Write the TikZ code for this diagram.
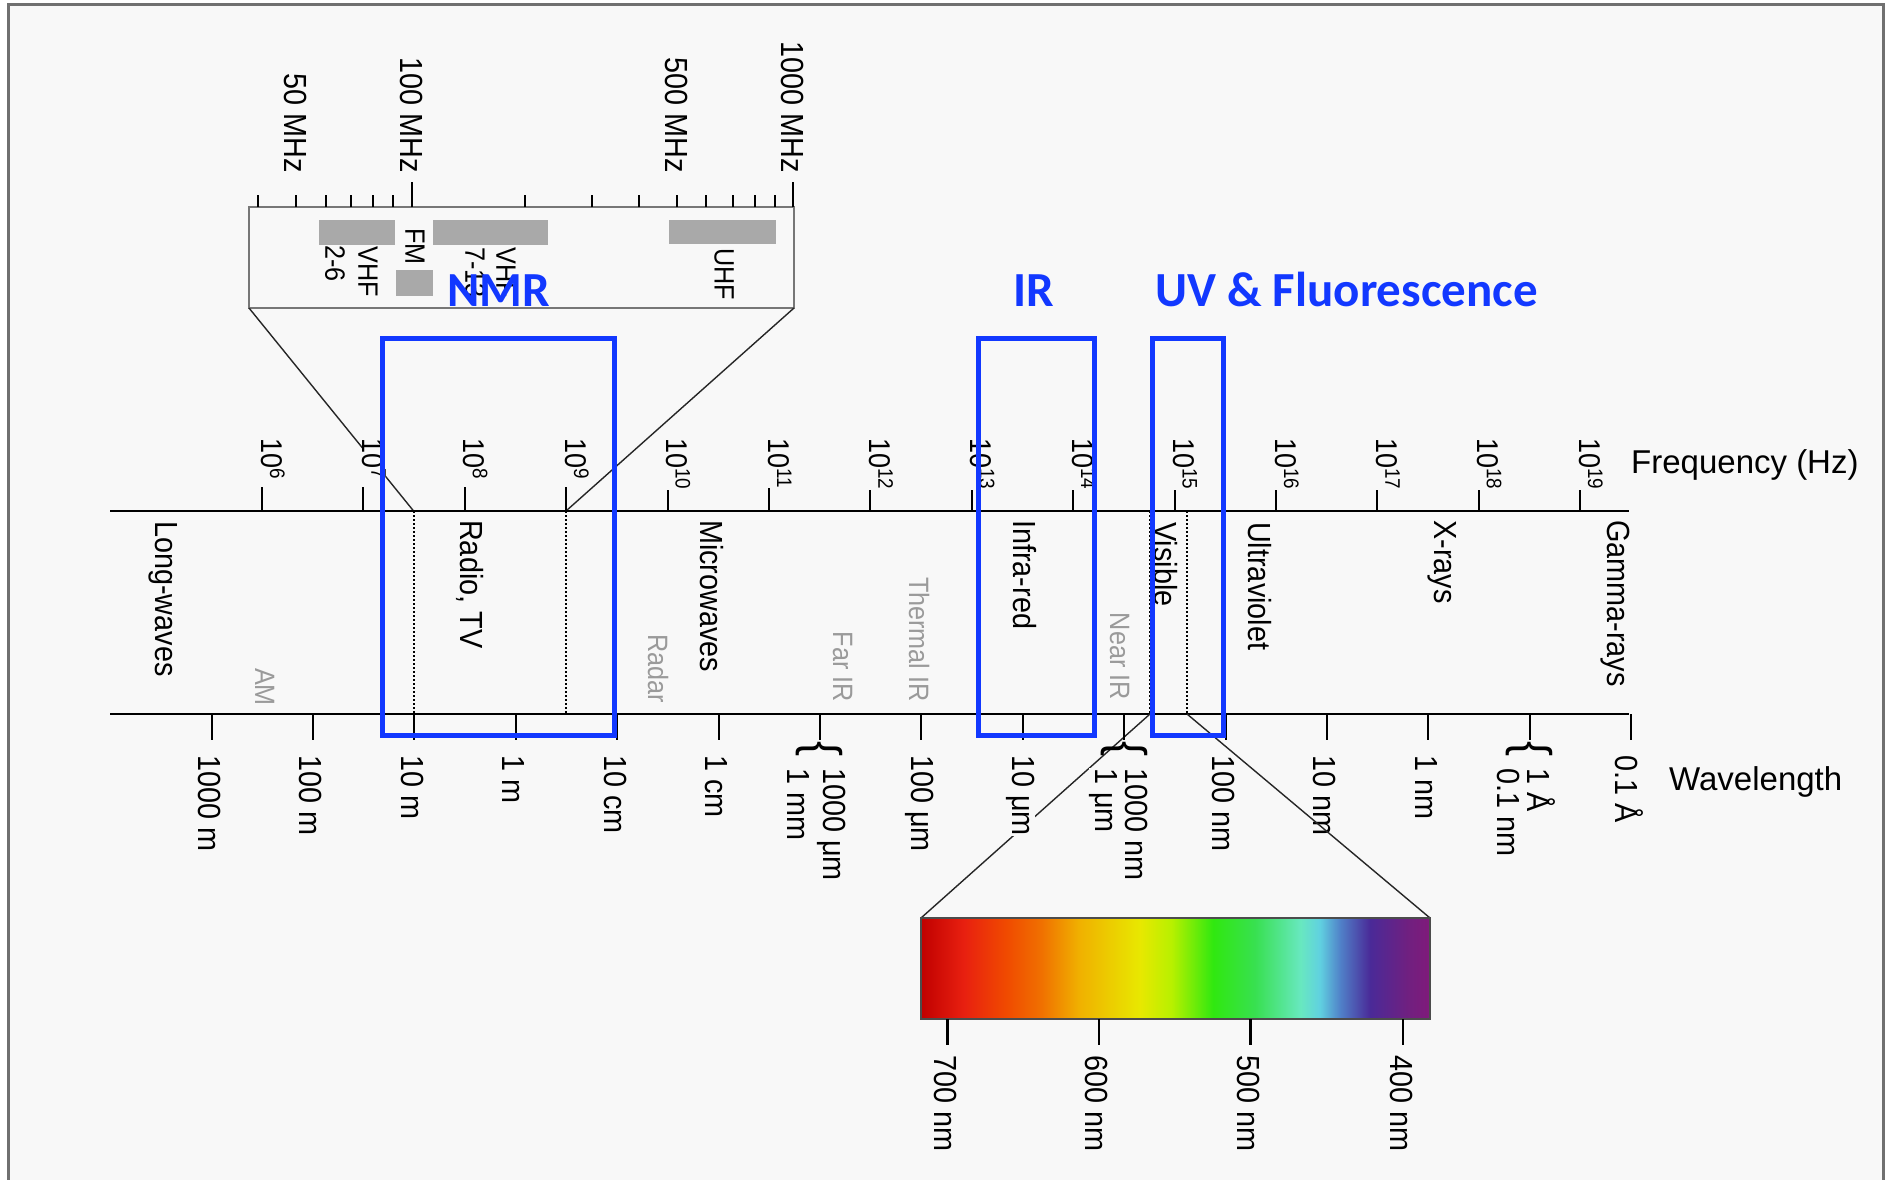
\documentclass[tikz,border=0pt]{standalone}
\usepackage{fontspec}
\setmainfont{Liberation Sans}
\newfontfamily\rotfont[FakeStretch=0.9]{Liberation Sans}
\newfontfamily\bluefont{Carlito}
\definecolor{bgc}{HTML}{F8F8F8}
\definecolor{framec}{HTML}{707070}
\definecolor{blueC}{HTML}{1238FF}
\definecolor{grayT}{HTML}{9A9A9A}
\definecolor{barc}{HTML}{A9A9A9}
\definecolor{insetc}{HTML}{777777}
\definecolor{s0}{HTML}{C00000}
\definecolor{s1}{HTML}{E82010}
\definecolor{s2}{HTML}{F04A00}
\definecolor{s3}{HTML}{F07000}
\definecolor{s4}{HTML}{F0B000}
\definecolor{s5}{HTML}{E8E800}
\definecolor{s6}{HTML}{B8F000}
\definecolor{s7}{HTML}{30E810}
\definecolor{s8}{HTML}{38E050}
\definecolor{s9}{HTML}{68E8C0}
\definecolor{s10}{HTML}{60D0E0}
\definecolor{s11}{HTML}{5080C8}
\definecolor{s12}{HTML}{4A2A98}
\definecolor{s13}{HTML}{702080}
\definecolor{s14}{HTML}{801A7A}
\pgfdeclarehorizontalshading{visspec}{100bp}{color(0bp)=(s0); color(25bp)=(s0); color(29.2bp)=(s1); color(33.35bp)=(s2); color(36.8bp)=(s3); color(40.5bp)=(s4); color(46.5bp)=(s5); color(49.6bp)=(s6); color(53.7bp)=(s7); color(57.8bp)=(s8); color(62.3bp)=(s9); color(64.2bp)=(s10); color(66.2bp)=(s11); color(69.1bp)=(s12); color(72.8bp)=(s13); color(75bp)=(s14); color(100bp)=(s14)}
\tikzset{
 axisline/.style={line width=2.5pt, black},
 tk/.style={line width=2pt, black},
 rl/.style={rotate=-90, inner sep=0pt, anchor=west, fill=bgc, font=\rotfont\fontsize{32}{36}\selectfont},
 flab/.style={rotate=-90, inner sep=0pt, anchor=base west, fill=bgc, font=\rotfont\fontsize{30}{34}\selectfont},
 glab/.style={rotate=-90, inner sep=0pt, anchor=base east, text=grayT, font=\rotfont\fontsize{28}{32}\selectfont},
 band/.style={rotate=-90, inner sep=0pt, anchor=base west, font=\rotfont\fontsize{32}{36}\selectfont},
 ilab/.style={rotate=-90, inner sep=0pt, anchor=west, font=\rotfont\fontsize{28}{31}\selectfont},
 mlab/.style={rotate=-90, inner sep=0pt, anchor=east, font=\rotfont\fontsize{32}{36}\selectfont},
 brace/.style={rotate=-90, inner sep=0pt, font=\rotfont\fontsize{50}{50}\selectfont},
 bluebox/.style={draw=blueC, line width=5pt},
 bluetitle/.style={anchor=base west, inner sep=0pt, text=blueC, font=\bluefont\bfseries\fontsize{49}{53}\selectfont},
 dotline/.style={line width=2pt, dash pattern=on 2pt off 2pt},
 conn/.style={line width=1.4pt, black!85},
 axlab/.style={anchor=base west, inner sep=0pt, font=\fontsize{33}{38}\selectfont},
}
\begin{document}
\begin{tikzpicture}[x=1pt,y=-1pt]
\useasboundingbox (0,0) rectangle (1885,1180);
\fill[white] (0,0) rectangle (1885,1180);
\fill[bgc] (8.5,4.5) rectangle (1883,1180);
\draw[framec, line width=3pt] (8.5,1180) -- (8.5,4.5) -- (1883,4.5) -- (1883,1180);

% ---------- inset (MHz) ----------
\draw[insetc, line width=2pt] (249,207) rectangle (794,308);
\foreach \xx in {258,296,326,351,373,393,525,592,639,677,706,733,755,775}
  \draw[tk] (\xx,207) -- (\xx,195);
\foreach \xx in {412,793}
  \draw[tk] (\xx,207) -- (\xx,182);
\node[mlab] (m50) at (296,173) {50 MHz};
\node[mlab] (m100) at (412,173) {100 MHz};
\node[mlab] (m500) at (677,173) {500 MHz};
\node[mlab] (m1000) at (793,173) {1000 MHz};
\fill[barc] (319,220) rectangle (395,245);
\fill[barc] (396,270) rectangle (433,296);
\fill[barc] (433,220) rectangle (548,245);
\fill[barc] (669,220) rectangle (776,244);
\node[ilab] (vhf1) at (368,246) {VHF};
\node[ilab] (ch1) at (335,245) {2-6};
\node[ilab] (fm) at (415,228) {FM};
\node[ilab] (vhf2) at (506,247) {VHF};
\node[ilab] (ch2) at (475,247) {7-13};
\node[ilab] (uhf) at (724,248) {UHF};

% connectors from inset to axis
\coordinate (inBL) at (249,308);
\coordinate (inBR) at (794,308);
\coordinate (nmrL) at (413.6,511);
\coordinate (nmrR) at (566,511);
\draw[conn] (inBL) -- (nmrL);
\draw[conn] (inBR) -- (nmrR);

% ---------- axes ----------
\draw[axisline] (110,511) -- (1629,511);
\draw[axisline] (110,714) -- (1629,714);

% frequency ticks and labels
\foreach \n in {6,...,19} {
  \pgfmathsetmacro{\xx}{262+(\n-6)*101.4}
  \draw[tk] (\xx,511) -- (\xx,487);
  \node[flab] (f\n) at (\xx-1,438) {10\textsuperscript{\n}};
}
\node[axlab] (freq) at (1631,473) {Frequency (Hz)};

% dotted lines
\coordinate (nmrLb) at (413.6,714);
\coordinate (nmrRb) at (566,714);
\coordinate (visL) at (1150,511);
\coordinate (visR) at (1187,511);
\coordinate (visLb) at (1150,714);
\coordinate (visRb) at (1187,714);
\draw[dotline] (nmrL) -- (nmrLb);
\draw[dotline] (nmrR) -- (nmrRb);
\draw[dotline] (visL) -- (visLb);
\draw[dotline] (visR) -- (visRb);

% band labels
\node[band] (lw) at (155,521) {Long-waves};
\node[band] (radio) at (460,520) {Radio, TV};
\node[band] (micro) at (700,520) {Microwaves};
\node[band] (infra) at (1013,520) {Infra-red};
\node[band] (visible) at (1154,522) {Visible};
\node[band] (uv) at (1248,522) {Ultraviolet};
\node[band] (xray) at (1434,520) {X-rays};
\node[band] (gamma) at (1607,520) {Gamma-rays};
\node[glab] (am) at (255,706) {AM};
\node[glab] (radar) at (648,703) {Radar};
\node[glab] (farir) at (833,702) {Far IR};
\node[glab] (thermal) at (909,702) {Thermal IR};
\node[glab] (nearir) at (1110,700) {Near IR};

% spectrum bar and its left connector
\coordinate (barTL) at (921,918);
\coordinate (barTR) at (1430,918);
\draw[conn] (visLb) -- (barTL);

% wavelength ticks and labels
\foreach \k in {0,...,14} {
  \pgfmathsetmacro{\xx}{211.5+101.4*\k}
  \draw[tk] (\xx,714) -- (\xx,740);
}
\foreach \k/\t in {0/1000 m,1/100 m,2/10 m,3/1 m,4/10 cm,5/1 cm,7/100 μm,8/10 μm,10/100 nm,11/10 nm,12/1 nm,14/0.1 Å} {
  \pgfmathsetmacro{\xx}{211.5+101.4*\k}
  \node[rl] (w\k) at (\xx-2,755) {\t};
}
\foreach \k/\ta/\tb in {6/1000 μm/1 mm,9/1000 nm/1 μm,13/1 Å/0.1 nm} {
  \pgfmathsetmacro{\xx}{211.5+101.4*\k}
  \node[brace] (br\k) at (\xx,749) {\{};
  \node[rl] (wa\k) at (\xx+12,768) {\ta};
  \node[rl] (wb\k) at (\xx-21,768) {\tb};
}
\node[axlab] (wave) at (1669,790) {Wavelength};

\draw[conn] (visRb) -- (barTR);

% visible spectrum
\shade[shading=visspec] (barTL) rectangle (1430,1019);
\draw[black!70, line width=1.5pt] (barTL) rectangle (1430,1019);
\foreach \xx/\t in {947.4/700 nm,1099/600 nm,1250.7/500 nm,1403/400 nm} {
  \draw[line width=2.5pt] (\xx,1019) -- (\xx,1045);
  \node[rl, fill=none] at (\xx-2,1055) {\t};
}

% blue highlight boxes and titles
\draw[bluebox] (382,338) rectangle (614,735);
\draw[bluebox] (978.6,338) rectangle (1094.8,735);
\draw[bluebox] (1152.5,338) rectangle (1223,735);
\node[bluetitle] (nmr) at (447,306) {NMR};
\node[bluetitle] (ir) at (1013,306) {IR};
\node[bluetitle] (uvf) at (1155,306) {UV \& Fluorescence};
\end{tikzpicture}
\end{document}
